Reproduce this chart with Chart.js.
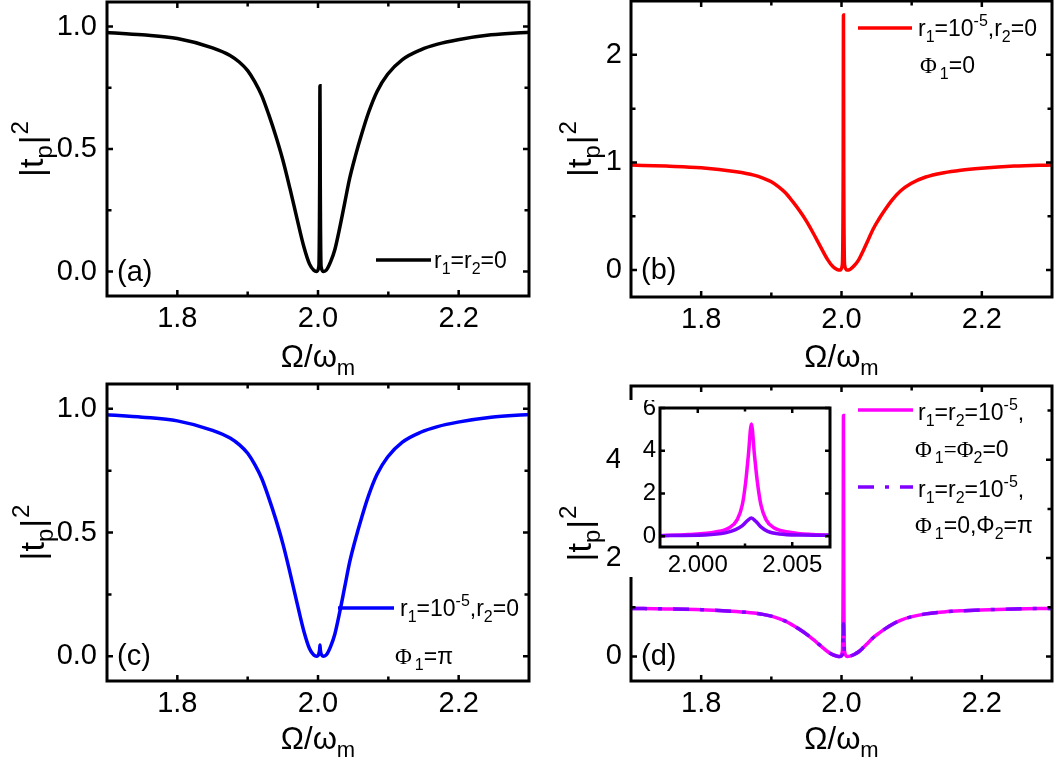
<!DOCTYPE html>
<html>
<head>
<meta charset="utf-8">
<script src="https://cdn.jsdelivr.net/npm/chart.js@4.4.1/dist/chart.umd.min.js"></script>
<style>
  html, body { margin: 0; padding: 0; background: #fff; }
  #wrap { position: relative; width: 1056px; height: 764px; overflow: hidden; background: #fff; }
  canvas { position: absolute; }
</style>
</head>
<body>
<div id="wrap">
  <canvas id="panelA"></canvas>
  <canvas id="panelB"></canvas>
  <canvas id="panelC"></canvas>
  <canvas id="panelD"></canvas>
  <canvas id="panelInset"></canvas>
</div>
<script>
// ---- data ----
// broad dip, same in every panel (outside the narrow resonance)
const omegaLeft  = [1.700, 1.750, 1.800, 1.850, 1.875, 1.888, 1.900, 1.910, 1.920, 1.930, 1.940, 1.950, 1.960, 1.970, 1.980, 1.988, 1.994, 1.998];
const dipLeft    = [0.976, 0.966, 0.951, 0.913, 0.882, 0.855, 0.820, 0.775, 0.718, 0.640, 0.553, 0.455, 0.340, 0.218, 0.100, 0.030, 0.005, 0.000];
const omegaRight = [2.008, 2.012, 2.018, 2.024, 2.031, 2.038, 2.045, 2.053, 2.062, 2.072, 2.084, 2.099, 2.120, 2.146, 2.170, 2.199, 2.246, 2.300];
const dipRight   = [0.000, 0.006, 0.040, 0.090, 0.180, 0.280, 0.380, 0.470, 0.560, 0.650, 0.735, 0.805, 0.865, 0.905, 0.928, 0.946, 0.966, 0.977];

// narrow resonance near 2.0028
const omegaCore = [2.0012, 2.0024, 2.0028, 2.0032, 2.0044];
const coreA     = [0.02, 0.38, 0.758, 0.38, 0.02];   // r1=r2=0
const coreB     = [0.05, 0.95, 2.37, 0.95, 0.05];    // r1=1e-5, phi1=0
const coreC     = [0.01, 0.03, 0.045, 0.03, 0.01];   // r1=1e-5, phi1=pi
const coreD1    = [0.10, 1.90, 4.90, 1.90, 0.10];    // phi1=phi2=0
const coreD2    = [0.03, 0.40, 0.67, 0.40, 0.03];    // phi1=0, phi2=pi

// inset of (d)
const insetOmega1 = [1.9980, 1.9995, 2.00093, 2.00164, 2.00209, 2.00236, 2.00254, 2.00268, 2.00284, 2.00300, 2.00316, 2.00334, 2.00361, 2.00405, 2.00486, 2.00611, 2.0070];
const insetT1     = [0.03, 0.08, 0.20, 0.39, 0.78, 1.48, 2.57, 3.81, 5.25, 3.81, 2.50, 1.48, 0.78, 0.39, 0.19, 0.08, 0.05];
const insetOmega2 = [1.9980, 2.00039, 2.00146, 2.00200, 2.00236, 2.00263, 2.00284, 2.00307, 2.00334, 2.00370, 2.00432, 2.00539, 2.0070];
const insetT2     = [0.03, 0.06, 0.16, 0.31, 0.50, 0.73, 0.86, 0.70, 0.44, 0.23, 0.11, 0.06, 0.05];

// ticks
const xTicksMain = [1.8, 2.0, 2.2];
const xMinorMain = [1.9, 2.1];
const yTicksAC = [0, 0.5, 1.0];
const yMinorAC = [0.25, 0.75];
const yTicksB = [0, 1, 2];
const yMinorB = [0.5, 1.5];
const yTicksD = [0, 2, 4];
const yMinorD = [1, 3, 5];
const xTicksInset = [2.000, 2.005];
const xMinorInset = [2.0025];
const yTicksInset = [0, 2, 4, 6];

// ---- helpers ----
const SANS = '"Liberation Sans", Arial, sans-serif';
const SERIF = '"Liberation Serif", "Times New Roman", serif';

function pts(xs, ys) { return xs.map((x, i) => ({ x: x, y: ys[i] })); }
function panelPts(core) {
  return pts(omegaLeft.concat(omegaCore, omegaRight), dipLeft.concat(core, dipRight));
}

function fontOf(kind, size) {
  if (kind === 'sub' || kind === 'sup') return Math.round(size * 0.7) + 'px ' + SANS;
  if (kind === 'g') return size + 'px ' + SERIF;
  return size + 'px ' + SANS;
}
function richWidth(ctx, parts, size) {
  let w = 0;
  parts.forEach(p => { ctx.font = fontOf(p[1] || '', size); w += ctx.measureText(p[0]).width + (p[2] || 0); });
  return w;
}
function drawRich(ctx, parts, x, y, size, align) {
  let cx = align === 'center' ? x - richWidth(ctx, parts, size) / 2 : x;
  ctx.textAlign = 'left';
  ctx.textBaseline = 'alphabetic';
  ctx.fillStyle = '#000';
  parts.forEach(p => {
    const kind = p[1] || '';
    ctx.font = fontOf(kind, size);
    const dy = kind === 'sub' ? size * 0.25 : (kind === 'sup' ? -size * 0.45 : 0);
    ctx.fillText(p[0], cx, y + dy);
    cx += ctx.measureText(p[0]).width + (p[2] || 0);
  });
}

const yTitle = [['|t'], ['p', 'sub', 1], ['|', '', 1], ['2', 'sup']];
const xTitle = [['\u03A9/\u03C9'], ['m', 'sub']];

// decorations: frame, inward ticks, titles, legend
function makeDecor(spec) {
  return {
    id: 'decor',
    beforeDraw(chart) {
      if (!spec.whiteBg) return;
      const ctx = chart.ctx;
      ctx.save();
      ctx.fillStyle = '#fff';
      ctx.fillRect(0, 0, chart.width, chart.height);
      ctx.restore();
    },
    afterDatasetsDraw(chart) {
      const ctx = chart.ctx, a = chart.chartArea;
      const xs = chart.scales.x, ys = chart.scales.y;
      ctx.save();
      ctx.strokeStyle = '#000';
      ctx.lineWidth = spec.tickWidth;
      function tx(v, len) {
        const p = xs.getPixelForValue(v);
        ctx.beginPath();
        ctx.moveTo(p, a.bottom); ctx.lineTo(p, a.bottom - len);
        ctx.moveTo(p, a.top); ctx.lineTo(p, a.top + len);
        ctx.stroke();
      }
      function ty(v, len) {
        const p = ys.getPixelForValue(v);
        ctx.beginPath();
        ctx.moveTo(a.left, p); ctx.lineTo(a.left + len, p);
        ctx.moveTo(a.right, p); ctx.lineTo(a.right - len, p);
        ctx.stroke();
      }
      spec.xTicks.forEach(v => tx(v, spec.major));
      spec.xMinor.forEach(v => tx(v, spec.minor));
      spec.yTicks.forEach(v => ty(v, spec.major));
      spec.yMinor.forEach(v => ty(v, spec.minor));
      ctx.lineWidth = 3;
      ctx.strokeRect(a.left, a.top, a.right - a.left, a.bottom - a.top);
      ctx.restore();
    },
    afterDraw(chart) {
      const ctx = chart.ctx, a = chart.chartArea;
      ctx.save();
      if (spec.letter) {
        ctx.font = '29px ' + SANS;
        ctx.fillStyle = '#000';
        ctx.textAlign = 'left';
        ctx.textBaseline = 'middle';
        ctx.fillText(spec.letter, a.left + 10, chart.scales.y.getPixelForValue(0) + 1);
      }
      if (spec.yTitleOffset) {
        ctx.save();
        ctx.translate(a.left - spec.yTitleOffset, (a.top + a.bottom) / 2);
        ctx.rotate(-Math.PI / 2);
        drawRich(ctx, yTitle, 0, 0, 34, 'center');
        ctx.restore();
      }
      if (spec.xTitleOffset) {
        drawRich(ctx, xTitle, (a.left + a.right) / 2, a.bottom + spec.xTitleOffset, 31, 'center');
      }
      (spec.legendLines || []).forEach(l => {
        ctx.save();
        ctx.strokeStyle = l.color;
        ctx.lineWidth = 3.5;
        ctx.setLineDash(l.dash || []);
        ctx.beginPath();
        ctx.moveTo(l.x1 - spec.ox, l.y - spec.oy);
        ctx.lineTo(l.x2 - spec.ox, l.y - spec.oy);
        ctx.stroke();
        ctx.restore();
      });
      (spec.legendTexts || []).forEach(t => drawRich(ctx, t.parts, t.x - spec.ox, t.y - spec.oy, 23, 'left'));
      ctx.restore();
    }
  };
}

function makePanel(spec) {
  const c = document.getElementById(spec.id);
  const W = spec.area.r - spec.area.l + spec.pad.l + spec.pad.r;
  const H = spec.area.b - spec.area.t + spec.pad.t + spec.pad.b;
  spec.ox = spec.area.l - spec.pad.l;
  spec.oy = spec.area.t - spec.pad.t;
  c.width = W; c.height = H;
  c.style.left = spec.ox + 'px'; c.style.top = spec.oy + 'px';
  c.style.width = W + 'px'; c.style.height = H + 'px';
  const tickFont = { family: SANS, size: spec.tickSize };
  return new Chart(c, {
    type: 'line',
    data: { datasets: spec.datasets },
    options: {
      responsive: false,
      animation: false,
      devicePixelRatio: 1,
      layout: { padding: { top: spec.pad.t, right: spec.pad.r, left: 0, bottom: 0 } },
      plugins: { legend: { display: false }, tooltip: { enabled: false } },
      elements: { point: { radius: 0 }, line: { borderWidth: 3.5, cubicInterpolationMode: 'monotone' } },
      scales: {
        x: {
          type: 'linear', min: spec.xMin, max: spec.xMax,
          grid: { display: false, drawTicks: false }, border: { display: false },
          afterBuildTicks: s => { s.ticks = spec.xTicks.map(v => ({ value: v })); },
          afterFit: s => { s.height = spec.pad.b; s.paddingLeft = 0; s.paddingRight = 0; },
          ticks: { font: tickFont, color: '#000', padding: spec.xPad, maxRotation: 0, autoSkip: false,
                   callback: v => v.toFixed(spec.xDec) }
        },
        y: {
          type: 'linear', min: spec.yMin, max: spec.yMax,
          grid: { display: false, drawTicks: false }, border: { display: false },
          afterBuildTicks: s => { s.ticks = spec.yTicks.map(v => ({ value: v })); },
          afterFit: s => { s.width = spec.pad.l; s.paddingTop = 0; s.paddingBottom = 0; },
          ticks: { font: tickFont, color: '#000', padding: spec.yPad, autoSkip: false,
                   callback: v => v.toFixed(spec.yDec) }
        }
      }
    },
    plugins: [makeDecor(spec)]
  });
}

const mainCommon = {
  xMin: 1.7, xMax: 2.3, xTicks: xTicksMain, xMinor: xMinorMain, xDec: 1,
  tickSize: 29, xPad: 6, major: 6, minor: 4.5, tickWidth: 2.5
};

const r1sup = [['r'], ['1', 'sub'], ['=10'], ['-5', 'sup'], [',r'], ['2', 'sub'], ['=0']];
const r12sup = [['r'], ['1', 'sub'], ['=r'], ['2', 'sub'], ['=10'], ['-5', 'sup'], [',']];

makePanel(Object.assign({}, mainCommon, {
  id: 'panelA', area: { l: 107, r: 529, t: 2, b: 296 }, pad: { l: 107, r: 4, t: 2, b: 86 },
  yMin: -0.1, yMax: 1.1, yTicks: yTicksAC, yMinor: yMinorAC, yDec: 1, yPad: 10,
  letter: '(a)', yTitleOffset: 64, xTitleOffset: 71,
  legendLines: [{ x1: 376, x2: 431, y: 260, color: '#000' }],
  legendTexts: [{ x: 434, y: 268, parts: [['r'], ['1', 'sub'], ['=r'], ['2', 'sub'], ['=0']] }],
  datasets: [{ data: panelPts(coreA), borderColor: '#000000' }]
}));

makePanel(Object.assign({}, mainCommon, {
  id: 'panelB', area: { l: 631, r: 1052, t: 1, b: 297 }, pad: { l: 101, r: 4, t: 1, b: 85 },
  yMin: -0.25, yMax: 2.5, yTicks: yTicksB, yMinor: yMinorB, yDec: 0, yPad: 9,
  letter: '(b)', yTitleOffset: 40, xTitleOffset: 70,
  legendLines: [{ x1: 858, x2: 912, y: 28, color: '#ff0000' }],
  legendTexts: [
    { x: 918, y: 36, parts: r1sup },
    { x: 920, y: 73, parts: [['\u03A6', 'g', 3], ['1', 'sub'], ['=0']] }
  ],
  datasets: [{ data: panelPts(coreB), borderColor: '#ff0000' }]
}));

makePanel(Object.assign({}, mainCommon, {
  id: 'panelC', area: { l: 107, r: 529, t: 384, b: 681 }, pad: { l: 107, r: 4, t: 2, b: 83 },
  yMin: -0.1, yMax: 1.1, yTicks: yTicksAC, yMinor: yMinorAC, yDec: 1, yPad: 10,
  letter: '(c)', yTitleOffset: 63, xTitleOffset: 68,
  legendLines: [{ x1: 338, x2: 394, y: 608, color: '#0000ff' }],
  legendTexts: [
    { x: 400, y: 616, parts: r1sup },
    { x: 395, y: 664, parts: [['\u03A6', 'g', 3], ['1', 'sub'], ['=\u03C0']] }
  ],
  datasets: [{ data: panelPts(coreC), borderColor: '#0000ff' }]
}));

makePanel(Object.assign({}, mainCommon, {
  id: 'panelD', area: { l: 631, r: 1052, t: 386, b: 681 }, pad: { l: 101, r: 4, t: 4, b: 83 },
  yMin: -0.5, yMax: 5.5, yTicks: yTicksD, yMinor: yMinorD, yDec: 0, yPad: 9,
  letter: '(d)', yTitleOffset: 40, xTitleOffset: 68,
  legendLines: [
    { x1: 858, x2: 913, y: 410, color: '#ff00ff' },
    { x1: 858, x2: 913, y: 487, color: '#8000ff', dash: [16, 11, 4, 11] }
  ],
  legendTexts: [
    { x: 918, y: 420, parts: r12sup },
    { x: 915, y: 457, parts: [['\u03A6', 'g', 3], ['1', 'sub'], ['=\u03A6', 'g'], ['2', 'sub'], ['=0']] },
    { x: 918, y: 497, parts: r12sup },
    { x: 915, y: 533, parts: [['\u03A6', 'g', 3], ['1', 'sub'], ['=0,\u03A6'], ['2', 'sub'], ['=\u03C0']] }
  ],
  // order: the dash-dot violet curve is drawn over the magenta one
  datasets: [
    { data: panelPts(coreD1), borderColor: '#ff00ff', order: 2 },
    { data: panelPts(coreD2), borderColor: '#8000ff', borderDash: [16, 11, 4, 11], order: 1 }
  ]
}));

makePanel({
  id: 'panelInset', area: { l: 660, r: 830, t: 408, b: 547 }, pad: { l: 40, r: 5, t: 8, b: 30 },
  whiteBg: true,
  xMin: 1.998, xMax: 2.007, xTicks: xTicksInset, xMinor: xMinorInset, xDec: 3, xPad: 4,
  yMin: -0.5, yMax: 6, yTicks: yTicksInset, yMinor: [], yDec: 0, yPad: 4,
  tickSize: 24, major: 5, minor: 3.5, tickWidth: 2.5,
  datasets: [
    { data: pts(insetOmega1, insetT1), borderColor: '#ff00ff', order: 2 },
    { data: pts(insetOmega2, insetT2), borderColor: '#8000ff', order: 1 }
  ]
});
</script>
</body>
</html>
